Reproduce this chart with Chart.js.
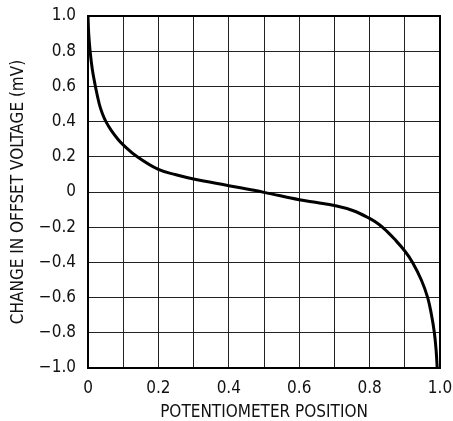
<!DOCTYPE html>
<html>
<head>
<meta charset="utf-8">
<script src="https://cdn.jsdelivr.net/npm/chart.js@4.4.1/dist/chart.umd.min.js"></script>
<style>
  html, body { margin: 0; padding: 0; background: #fff; }
  #wrap { width: 453px; height: 421px; position: relative; }
</style>
</head>
<body>
<div id="wrap"><canvas id="grafico"></canvas></div>
<script>
// Posición del potenciómetro (0..1) y cambio de offset (mV)
const potPosition = [0, 0.002, 0.006, 0.012, 0.021, 0.032, 0.041, 0.051, 0.066, 0.085, 0.1, 0.14, 0.2, 0.25, 0.3, 0.4, 0.5, 0.6, 0.65, 0.7, 0.752, 0.8, 0.828, 0.85, 0.87, 0.9, 0.922, 0.947, 0.965, 0.976, 0.984, 0.989, 0.992];
const offsetChange = [1.0, 0.9, 0.8, 0.7, 0.6, 0.5, 0.445, 0.4, 0.35, 0.3, 0.268, 0.2, 0.128, 0.098, 0.074, 0.036, -0.002, -0.044, -0.06, -0.077, -0.105, -0.15, -0.186, -0.225, -0.266, -0.335, -0.4, -0.5, -0.6, -0.7, -0.8, -0.9, -1.0];

const xTicks = [0, 0.1, 0.2, 0.3, 0.4, 0.5, 0.6, 0.7, 0.8, 0.9, 1.0];
const xLabels = ['0', '', '0.2', '', '0.4', '', '0.6', '', '0.8', '', '1.0'];
const yTicks = [-1.0, -0.8, -0.6, -0.4, -0.2, 0, 0.2, 0.4, 0.6, 0.8, 1.0];
const yLabels = ['\u22121.0', '\u22120.8', '\u22120.6', '\u22120.4', '\u22120.2', '0', '0.2', '0.4', '0.6', '0.8', '1.0'];

const fuente = "'Liberation Sans Narrow', 'DejaVu Sans Condensed', 'Liberation Sans', sans-serif";

const puntos = potPosition.map((x, i) => ({ x: x, y: offsetChange[i] }));

function etiqueta(ticks, labels, v) {
    const i = ticks.findIndex(t => Math.abs(t - v) < 1e-6);
    return i >= 0 ? labels[i] : '';
}

const ctx = document.getElementById('grafico').getContext('2d');
new Chart(ctx, {
    type: 'scatter',
    data: {
        datasets: [{
            data: puntos,
            showLine: true,
            borderColor: '#000',
            borderWidth: 3,
            pointRadius: 0,
            tension: 0.4,
            fill: false
        }]
    },
    options: {
        responsive: true,
        maintainAspectRatio: false,
        animation: false,
        layout: { padding: { top: 16, right: 13, left: 0, bottom: 0 } },
        plugins: { legend: { display: false }, tooltip: { enabled: false } },
        scales: {
            x: {
                type: 'linear',
                min: 0,
                max: 1,
                afterBuildTicks: s => { s.ticks = xTicks.map(v => ({ value: v })); },
                afterFit: s => { s.height = 53; s.paddingLeft = 0; s.paddingRight = 0; },
                border: { color: '#000', width: 2 },
                grid: { color: '#222', lineWidth: 1, drawTicks: false },
                ticks: {
                    padding: 10,
                    color: '#111',
                    font: { family: fuente, size: 17 },
                    maxRotation: 0,
                    autoSkip: false,
                    callback: v => etiqueta(xTicks, xLabels, v)
                },
                title: {
                    display: true,
                    text: 'POTENTIOMETER POSITION',
                    color: '#111',
                    font: { family: fuente, size: 17, lineHeight: 1.0 },
                    padding: { top: 0, bottom: 0 }
                }
            },
            y: {
                type: 'linear',
                min: -1,
                max: 1,
                afterBuildTicks: s => { s.ticks = yTicks.map(v => ({ value: v })); },
                afterFit: s => { s.width = 88; s.paddingTop = 0; s.paddingBottom = 0; },
                border: { color: '#000', width: 2 },
                grid: { color: '#222', lineWidth: 1, drawTicks: false },
                ticks: {
                    padding: 12,
                    color: '#111',
                    font: { family: fuente, size: 17 },
                    autoSkip: false,
                    callback: v => etiqueta(yTicks, yLabels, v)
                },
                title: {
                    display: true,
                    text: 'CHANGE IN OFFSET VOLTAGE (mV)',
                    color: '#111',
                    font: { family: fuente, size: 17 },
                    padding: { top: 8, bottom: 0 }
                }
            }
        }
    },
    plugins: [{
        // Marco superior y derecho del área de la gráfica
        id: 'marco',
        afterDraw(chart) {
            const a = chart.chartArea, c = chart.ctx;
            c.save();
            c.strokeStyle = '#000';
            c.lineWidth = 2;
            c.strokeRect(a.left, a.top, a.right - a.left, a.bottom - a.top);
            c.restore();
        }
    }]
});
</script>
</body>
</html>
